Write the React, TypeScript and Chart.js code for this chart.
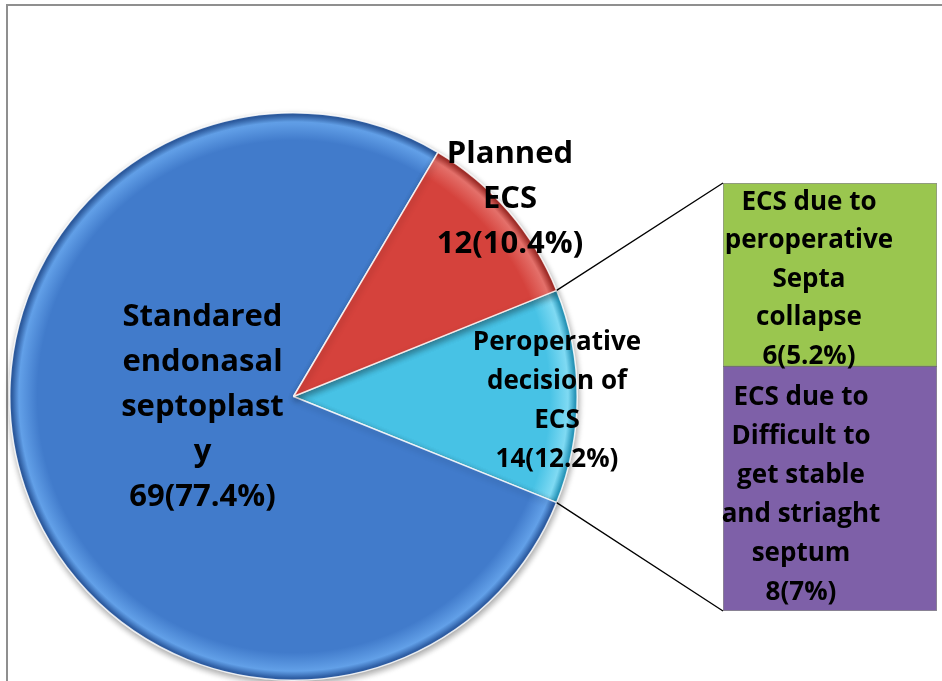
import React, { useEffect, useRef } from "react";
import { Chart, registerables } from "chart.js";

Chart.register(...registerables);

// ---------- data ----------
const pieCategories = ["Peroperative decision of ECS", "Standared endonasal septoplasty", "Planned ECS"];
const pieCounts = [14, 69, 12];
const piePercents = [12.2, 77.4, 10.4];
const pieLabelLines = [
  ["Peroperative", "decision of", "ECS"],
  ["Standared", "endonasal", "septoplast", "y"],
  ["Planned", "ECS"],
];

const barCategories = [
  "ECS due to Difficult to get stable and striaght septum",
  "ECS due to peroperative Septa collapse",
];
const barCounts = [8, 6];
const barPercents = [7, 5.2];
const barLabelLines = [
  ["ECS due to", "Difficult to", "get stable", "and striaght", "septum"],
  ["ECS due to", "peroperative", "Septa", "collapse"],
];

// ---------- styles ----------
const W = 942;
const H = 681;
const pieBase = ["#47c2e5", "#417bcb", "#d5423c"];
const pieLight = ["#7fdaf3", "#62a0e8", "#e4706a"];
const pieDark = ["#2b9cc0", "#2f5fa6", "#a8302b"];
const barColors = ["#7e60a8", "#9ac64f"];
const BIG = 'bold 31px "Open Sans"';
const SMALL = 'bold 26px "Open Sans"';
// label offsets relative to pie centre (pie) or bar centre (bar)
const pieLabelStyle = [
  { dx: 263.5, dy: 4.5, font: SMALL, lh: 39 },
  { dx: -91, dy: 10.5, font: BIG, lh: 45 },
  { dx: 216.5, dy: -197, font: BIG, lh: 45 },
];
const barLabelStyle = [
  { dx: -29, dy: 6, font: SMALL, lh: 39 },
  { dx: -21, dy: 4.5, font: SMALL, lh: 38.5 },
];

function drawLines(ctx: CanvasRenderingContext2D, lines: string[], x: number, y: number, font: string, lh: number) {
  ctx.save();
  ctx.font = font;
  ctx.fillStyle = "#000";
  ctx.textAlign = "center";
  ctx.textBaseline = "middle";
  const top = y - ((lines.length - 1) * lh) / 2;
  lines.forEach((l, i) => ctx.fillText(l, x, top + i * lh));
  ctx.restore();
}

function radialFill(chart: any, i: number) {
  const a = chart.chartArea;
  if (!a) return pieBase[i];
  const cx = (a.left + a.right) / 2;
  const cy = (a.top + a.bottom) / 2;
  const r = Math.min(a.right - a.left, a.bottom - a.top) / 2;
  const g = chart.ctx.createRadialGradient(cx, cy, 0, cx, cy, r);
  g.addColorStop(0, pieBase[i]);
  g.addColorStop(0.9, pieBase[i]);
  g.addColorStop(0.965, pieLight[i]);
  g.addColorStop(0.99, pieDark[i]);
  g.addColorStop(1, pieDark[i]);
  return g;
}

export default function App() {
  const pieRef = useRef<HTMLCanvasElement>(null);
  const barRef = useRef<HTMLCanvasElement>(null);

  useEffect(() => {
    if (!pieRef.current || !barRef.current) return;

    const pieLabelPlugin = {
      id: "pieLabels",
      beforeDatasetsDraw(chart: any) {
        const ctx = chart.ctx;
        ctx.save();
        ctx.shadowColor = "rgba(0,0,0,0.35)";
        ctx.shadowBlur = 6;
        ctx.shadowOffsetX = 1;
        ctx.shadowOffsetY = 3;
      },
      afterDatasetsDraw(chart: any) {
        chart.ctx.restore();
        const ctx = chart.ctx;
        const meta = chart.getDatasetMeta(0);
        meta.data.forEach((arc: any, i: number) => {
          const s = pieLabelStyle[i];
          const lines = [...pieLabelLines[i], `${pieCounts[i]}(${piePercents[i]}%)`];
          drawLines(ctx, lines, arc.x + s.dx, arc.y + s.dy, s.font, s.lh);
        });
      },
    };

    const pie = new Chart(pieRef.current, {
      type: "pie",
      data: {
        labels: pieCategories,
        datasets: [
          {
            data: piePercents,
            backgroundColor: (c: any) => radialFill(c.chart, c.dataIndex),
            borderColor: "rgba(255,255,255,0.85)",
            borderWidth: 1.5,
          },
        ],
      },
      options: {
        responsive: false,
        animation: false,
        devicePixelRatio: 1,
        rotation: 90 - (piePercents[0] * 360) / 100 / 2,
        layout: { padding: { left: 9, top: 112, right: W - 578, bottom: 0 } },
        plugins: { legend: { display: false }, tooltip: { enabled: false } },
      },
      plugins: [pieLabelPlugin],
    } as any);

    const barPlugin = {
      id: "barExtras",
      afterDatasetsDraw(chart: any) {
        const ctx = chart.ctx;
        // connector lines from the cyan slice edges to the bar corners
        const arc: any = pie.getDatasetMeta(0).data[0];
        const r = arc.outerRadius;
        const p1 = { x: arc.x + r * Math.cos(arc.startAngle), y: arc.y + r * Math.sin(arc.startAngle) };
        const p2 = { x: arc.x + r * Math.cos(arc.endAngle), y: arc.y + r * Math.sin(arc.endAngle) };
        const top: any = chart.getDatasetMeta(1).data[0];
        const bot: any = chart.getDatasetMeta(0).data[0];
        ctx.save();
        ctx.strokeStyle = "#000";
        ctx.lineWidth = 1.3;
        ctx.beginPath();
        ctx.moveTo(p1.x, p1.y);
        ctx.lineTo(top.x - top.width / 2, top.y);
        ctx.moveTo(p2.x, p2.y);
        ctx.lineTo(bot.x - bot.width / 2, bot.base);
        ctx.stroke();
        ctx.restore();
        // labels
        [0, 1].forEach((d) => {
          const el: any = chart.getDatasetMeta(d).data[0];
          const s = barLabelStyle[d];
          const cy = (el.y + el.base) / 2;
          const lines = [...barLabelLines[d], `${barCounts[d]}(${barPercents[d]}%)`];
          drawLines(ctx, lines, el.x + s.dx, cy + s.dy, s.font, s.lh);
        });
      },
    };

    const bar = new Chart(barRef.current, {
      type: "bar",
      data: {
        labels: ["ECS"],
        datasets: barCounts.map((v, i) => ({
          label: barCategories[i],
          data: [v],
          backgroundColor: barColors[i],
          borderColor: "rgba(50,50,50,0.55)",
          borderWidth: 1,
          borderSkipped: false,
          barPercentage: 1,
          categoryPercentage: 1,
        })),
      },
      options: {
        responsive: false,
        animation: false,
        devicePixelRatio: 1,
        layout: { padding: { left: 723, right: W - 937, top: 183, bottom: H - 611 } },
        scales: {
          x: { stacked: true, display: false },
          y: { stacked: true, display: false, min: 0, max: 14 },
        },
        plugins: { legend: { display: false }, tooltip: { enabled: false } },
      },
      plugins: [barPlugin],
    } as any);

    return () => {
      bar.destroy();
      pie.destroy();
    };
  }, []);

  return (
    <div style={{ position: "fixed", left: 0, top: 0, width: W, height: H, overflow: "hidden", background: "#fff" }}>
      <div
        style={{
          position: "absolute",
          left: 6,
          top: 4,
          width: W,
          height: H,
          border: "2px solid #8f8f8f",
          boxSizing: "border-box",
        }}
      />
      <canvas ref={pieRef} width={W} height={H} style={{ position: "absolute", left: 0, top: 0 }} />
      <canvas ref={barRef} width={W} height={H} style={{ position: "absolute", left: 0, top: 0 }} />
    </div>
  );
}
